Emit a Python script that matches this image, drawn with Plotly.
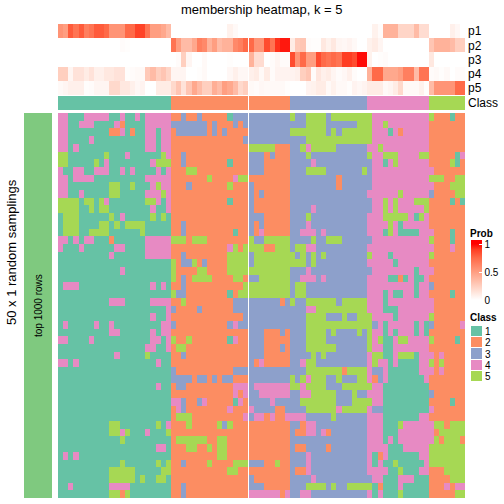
import plotly.graph_objects as go

FONT = "Liberation Sans"
CLASS_LABELS = ["1", "2", "3", "4", "5"]
CLASS_COLORS = ["#66C2A5", "#FC8D62", "#8DA0CB", "#E78AC3", "#A6D854"]
TRACK_LABELS = ["p1", "p2", "p3", "p4", "p5"]
SIDE_COLOR = "#7FC97F"

# Number of columns in the left and right column slices
N_LEFT = 37

# Class of each column, run-length ("class*count")
COLUMN_CLASS = "1*22 2*23 3*15 4*12 5*7"

P1 = [.55,.5,.8,.7,.8,.65,.7,.8,.8,.75,.55,.55,.55,.75,.75,.88,.88,.7,.5,.5,.45,.35,
      0,0,0,0,0,0,0,0,0,0,0,.07,.03,0,0,
      0,0,0,0,0,0,0,0,0,0,0,0,0,0,0,0,0,0,0,0,0,0,0,0,.07,.02,.4,.4,.4,.22,.22,.22,.35,.18,.18,0,0,0,0,.08,.04,0]
P2 = [0,0,0,0,0,0,0,0,0,0,0,0,.02,.01,0,0,0,0,0,0,0,0,
      .7,.5,.35,.35,.45,.65,.6,.4,.5,.35,.4,.4,.6,.65,.75,
      .75,.55,.55,.85,.7,.92,.96,.96,.1,.28,.3,.02,.01,.01,.12,.07,.12,.05,.04,.06,.03,0,0,.07,.1,.05,0,0,0,0,0,0,0,0,0,.3,.4,.4,.4,.35,.25,.25]
P3 = [0,0,0,0,0,0,0,0,0,0,0,0,0,0,0,0,0,0,0,0,0,0,
      0,.02,.25,.05,0,0,.03,0,0,0,0,.01,0,0,0,
      .4,.18,.18,0,.02,.05,.02,.02,.85,.55,.75,.5,.5,.85,.75,.7,.75,.7,.9,.9,.85,.98,.98,.07,0,.01,.02,0,0,0,0,0,0,0,0,.12,0,0,0,0,0,0]
P4 = [.25,.25,.05,.15,.15,.1,.15,.08,.08,.12,.12,.15,.15,.01,.02,.03,.03,.28,.35,.25,.3,.22,
      .05,.05,.05,0,0,.01,.03,0,0,0,0,.04,.08,.04,.04,
      .08,.1,.03,.1,.02,.06,.06,.06,.06,.08,.25,.3,.02,.13,.08,.1,.05,.02,.04,.08,.02,0,0,.4,.75,.75,.45,.45,.45,.5,.65,.65,.35,.7,.7,.02,.03,.01,.03,0,.02,.02]
P5 = [.03,.05,.08,.08,.08,.01,.02,.05,.05,.05,.2,.2,.12,.12,.08,.04,.06,0,0,.1,.1,.1,
      .2,.3,.15,.3,.45,.35,.25,.25,.42,.35,.5,.45,.35,.2,.25,
      .03,.02,.04,.03,.03,.03,.03,.01,0,0,0,.06,.07,.1,.1,.03,.07,.03,.03,.01,.06,.04,.06,.1,.1,.1,.03,.05,.1,.2,.03,.03,.03,.07,.01,.35,.55,.55,.55,.55,.75,.75]

# Membership matrix: one string per row, run-length ("class*count" or literal digits)
MEMBERSHIP = [
 "44 111 44444 11 4 11 4 1 44444 22 3 22 3 22222 1 333 33333333 5 33 5555 3 55555555 44444444444 5 222 1 22",
 "44 11 444 1111 4 2 1111 44444 3333333 2 3 222 3 2 3 3*11 5555 333333 555 44 5 44444444 2*7",
 "44 11111111 22 4 1 2 11 44 1 44 2 333333 2 3 2 3 2222 33333333 5*7 3 5 3 555555 444 1 4 2 44444 2*7",
 "44 1111 4 1*10 44 1 44 2*14 3 3*11 5*13 4*11 2*7",
 "44 1 4 1*13 44 1 44 2*15 5*5 222 33 5 4 5*5 3*6 44 5 4*9 2*7",
 "55 1*7 5 111 4 1*6 5 4 22 3 2*12 333 2 3 222 333 5 3*11 5 44 555 4444 55 2*5 1 4",
 "55 1*5 5 1 4 1*8 4 555 22 3 2*8 1 222 333 22222 3333 4 3*11 44 1 4 5 4*6 2222 5 1 2",
 "4 11 44 11 444 11 4 1 4 1111 4 1 4 222 55 2*10 333 22222 333 5555 3*7 5 3 4*12 2*6",
 "44 1 4444 1*10 44444 2*7 5 2222 4 55 2*8 3*9 2 3*6 4*11 555 22 55",
 "44 1*8 55 11 5 111 4 5 44 222 3 2*7 5 222 3 2*7 3*9 2 3*6 4*12 222 555",
 "44 11 4 1*5 55 1*5 444 5 4 2*15 3 2 3 2*5 3*15 4*6 5 4*5 3 2222 55",
 "5555 1 55 1 5 4 1*7 55 4 1 4 2*11 1 222 3 2*7 3*16 44 5 4 5 444 555 2222 1 2 1",
 "5555 11 5 1 55 1*8 4 11 4 2*15 3 2*7 3333 4 3*11 44 5 4 5 4*5 5 2*7",
 "1 555 1*6 5 1 4 1*5 5 1 5 1 2*15 333 22222 333 5 3*11 444 5*5 4 1 5 4 2*7",
 "1 555 1111 55 1 5 1 5555 1*5 22 3 2*12 3 2 3 2*5 333 4 3*11 4444 5 4 1 4*5 2*7",
 "1 555 11 5555 1*6 5 1*5 22 3 2*9 1 22 3 2 4 2*5 33 444 3 4 3*8 444 1 5 4 1111 444 222 1 22",
 "44 1 4 1 44 111 2 1*6 44444 555 2 555 2*8 5 33 55555 3333 5 33 555 3*6 4*11 5 222 1 22",
 "4 111 4 1*6 44 1111 44444 2*11 4 5 2 5 555 22 555 3 55 44 3*10 4*13 222 4 22",
 "1*10 4 1*6 44444 22 3 2*8 5555 3 5*8 3 5 3 5 3 5 3*8 5 444 1 4*7 5 2*6",
 "1*22 5 2 33 5 2 3 2222 5555 3 5*10 3 5 3*10 4*5 1 4*6 2*7",
 "1*12 4 1*9 5 2222 55 2222 5555 5*8 333 4 3*12 4*8 1 444 2*6",
 "1*22 5 2 3 2 5555 2222 55 2 33 5*6 33 444 3 4 3*8 4444 11 2 1 4 11 4 2*7",
 "1 444 1*14 4 1 4 1 22 3 2*11 5 5*8 3 55 3*12 4*9 1 44 3 2*6",
 "1*22 5 33 2*8 1 2 55 5*8 3 55 3*12 444 1 4 11 44 1 44 2222 1 22",
 "1*10 444 1*5 4444 22 5 2*9 333 3*6 2 3 5 33 5*6 3 5*5 444 1 4*9 2*6",
 "1*21 4 3 2222 3 2*6 333 3*11 44 5*10 444 111 4*7 2*6",
 "1*18 4 11 4 2*14 3 3*11 5555 333 5 33 555 4444 1 4*6 5 2*6",
 "1 4 1*5 4 11 4 1*9 44 3 2*10 3 4 33 3*11 5*13 3 4 1 4*5 1 4 1 3 2*5 4",
 "1*10 44 1*6 4 1 44 2*15 333 222 3 2 333 5555 3 5 3333 5 3 5 44 1 4 1 444 1 4 1 2*7",
 "44 1111 4 1*11 44 1 4 5 22 5 2*7 1 4 22 333 22222 333 5555 3*8 5 4 5 11 4 55 4444 5 2222 1 2",
 "1*17 44 11 4 2 55 2*12 333 222 3 2 333 5*6 3*6 5 44 11 4*7 2*7",
 "1*11 4 1*5 5 1111 22 3 2*12 333 22222 3333 5 3 5 3*8 4 55 11 4 555 1 444 2 4 2222",
 "44 1 4 1*15 4 11 2*15 3 2 4 2*5 33 4 55 3*10 4 5 44 1 4 1111 44 5 2 5 2222",
 "1*22 3 2*11 333 3*11 5*7 2 5555 4 33 4 1*6 444 2 4 2222",
 "1*22 3333 2 33 2 3 2 33 222 3*8 5 3 5 4 555 33 5 333 55 4 2 3 4 1*7 4 2*7",
 "1*19 4 11 2 33 2*9 444 3 4*7 55 4 5555 333 5*6 44 1*9 2*7",
 "1*22 2*12 4 2 4 33 4*6 33 44 5*5 333 5 33 444 1*9 3 2*6",
 "1*22 44 3 22 3 4 2*5 1 4 2 3333 4 3*5 5*7 333 5555 44 1*9 2222 1 22",
 "1*22 2 4 3 2*8 4 222 4 3333 22 3333 5*6 4 5*5 4 33 1*9 4 2*6",
 "1*22 2 555 2*10 4 3 44 2 4 22 4444 3*5 5 3*6 444 1*7 44 2*7",
 "1*10 55 1*7 5 1 4 222 5 2*5 5 3 5 222 2*8 33 2 44 3*10 444 111 5 4*6 55 2 555",
 "1*10 55 4 5 111 4 111 5 2*15 2*8 3 22 44 3 4 2 3*7 444 111 4*7 2 5*5",
 "1*12 5 1*9 2 5*6 22 55 2222 2*8 3*15 444 1 4 1 4*7 5 2 555 2",
 "1*19 44 1 222 55 22 5 2 55 2222 2*8 3 22 3333 2 3*7 4444 111 4*5 5*7",
 "1 4 1 4 1*18 2*9 55 2222 2*8 333 4 3*11 4 1 2 4 1*6 44 5*7",
 "1*12 5 1*6 5 1 5 22 3 2222 5 2222 555 333 22 5 22 333 4 3*11 4 1 4 11 5 1*5 4 5*7",
 "1*10 5*5 1*5 55 2*11 55 22 2*8 3 22 4 3*11 4444 11 5 111 44 222 5555",
 "1*10 5*5 1 5 11 55 1 2*15 3 2*7 3333 4 3*11 44 111 444 111 2222 555",
 "11 4 1*7 4444 1*8 22 3 2*12 333 22222 333 5555 3 5 33 5*5 1 2 111 4 1*5 222 4 2 44",
 "1*10 55 2 5 1*8 22 3 2*12 4*6 2 4 33 44 3*11 4 1 4 111 5 1*5 2*5 55",
]


def expand(text):
    out = []
    for tok in text.split():
        if "*" in tok:
            d, n = tok.split("*")
            out += [int(d)] * int(n)
        else:
            out += [int(c) for c in tok]
    return out


matrix = [expand(r) for r in MEMBERSHIP]
col_class = expand(COLUMN_CLASS)
tracks = [P1, P2, P3, P4, P5]

W = H = 504.0
px = lambda v: v / W
py = lambda v: 1 - v / H

XL = (58, 248)
XR = (249, 465)
Y_TRACK = (24, 95)
Y_CLASS = (96, 110)
Y_HEAT = (113, 498)

class_scale = []
for i, c in enumerate(CLASS_COLORS):
    class_scale += [[i / 5, c], [(i + 1) / 5, c]]

PROB_TOP = 1.07
prob_stops = [(0, "#FFFFFF"), (.25, "#FFCFBF"), (.5, "#FF9E81"), (.75, "#FF6A48"), (.9, "#FF3D22"), (1, "#FF0000")]
prob_scale = [[v / PROB_TOP, c] for v, c in prob_stops] + [[1, "#FF0000"]]

fig = go.Figure()
layout = {}
axis_n = [0]


def add_panel(z, xdom, ydom, colorscale, zmin, zmax, yticks=None, tick_size=12, colorbar=None, ygap=0):
    axis_n[0] += 1
    n = axis_n[0]
    sx = "" if n == 1 else str(n)
    fig.add_trace(go.Heatmap(
        z=z, colorscale=colorscale, zmin=zmin, zmax=zmax, xaxis="x" + sx, yaxis="y" + sx,
        showscale=colorbar is not None, colorbar=colorbar, hoverinfo="skip", ygap=ygap))
    layout["xaxis" + sx] = dict(domain=[px(xdom[0]), px(xdom[1])], anchor="y" + sx, visible=False, fixedrange=True)
    ya = dict(domain=[py(ydom[1]), py(ydom[0])], anchor="x" + sx, autorange="reversed", showgrid=False, zeroline=False,
              fixedrange=True, showline=False, ticks="")
    if yticks is None:
        ya["visible"] = False
    else:
        ya.update(side="right", tickmode="array", tickvals=list(range(len(yticks))), ticktext=yticks,
                  tickfont=dict(family=FONT, size=tick_size, color="#000000"), ticklabelstandoff=2)
    layout["yaxis" + sx] = ya


left = [r[:N_LEFT] for r in matrix]
right = [r[N_LEFT:] for r in matrix]
add_panel(left, XL, Y_HEAT, class_scale, .5, 5.5)
add_panel(right, XR, Y_HEAT, class_scale, .5, 5.5)

add_panel([t[:N_LEFT] for t in tracks], XL, Y_TRACK, prob_scale, 0, PROB_TOP)
cbar = dict(thickness=11.2, thicknessmode="pixels", len=59.5, lenmode="pixels", x=px(470.7), xanchor="left",
            y=py(300.3), yanchor="bottom", outlinewidth=0, tickvals=[0, .5, 1], ticktext=["0", "0.5", "1"],
            ticks="inside", ticklen=3, tickcolor="#FFFFFF", tickwidth=1,
            tickfont=dict(family=FONT, size=10, color="#000000"), xpad=0, ypad=0)
add_panel([t[N_LEFT:] for t in tracks], XR, Y_TRACK, prob_scale, 0, PROB_TOP, yticks=TRACK_LABELS, colorbar=cbar)

add_panel([col_class[:N_LEFT]], XL, Y_CLASS, class_scale, .5, 5.5)
add_panel([col_class[N_LEFT:]], XR, Y_CLASS, class_scale, .5, 5.5, yticks=["Class"])

add_panel([[1]], (24, 52), Y_HEAT, [[0, SIDE_COLOR], [1, SIDE_COLOR]], 0, 2)

add_panel([[i + 1] for i in range(5)], (471, 482), (326, 382), class_scale, .5, 5.5,
          yticks=CLASS_LABELS, tick_size=10, ygap=1)

fig.update_layout(**layout)


def note(x, y, text, size, angle=0, bold=False, anchor="center"):
    fig.add_annotation(xref="paper", yref="paper", x=px(x), y=py(y), text=f"<b>{text}</b>" if bold else text,
                       showarrow=False, textangle=angle, xanchor=anchor, yanchor="middle",
                       font=dict(family=FONT, size=size, color="#000000"), borderpad=0, borderwidth=0)


note(261.5, 9.5, "membership heatmap, k = 5", 13)
note(11, 252, "50 x 1 random samplings", 13, angle=-90)
note(38, 306, "top 1000 rows", 10, angle=-90)
note(470, 233, "Prob", 10, bold=True, anchor="left")
note(470, 317.5, "Class", 10, bold=True, anchor="left")

for tick_y in (244.7, 272.5):
    fig.add_shape(type="line", xref="paper", yref="paper", x0=px(470.7), x1=px(473.7), y0=py(tick_y), y1=py(tick_y),
                  line=dict(color="#FFFFFF", width=1), layer="above")

fig.update_layout(width=504, height=504, autosize=False, margin=dict(l=0, r=0, t=0, b=0),
                  paper_bgcolor="#FFFFFF", plot_bgcolor="#FFFFFF", showlegend=False)
fig.write_html("out.html", config={"displayModeBar": False},
               post_script="document.body.style.margin='0';document.body.style.overflow='hidden';")
